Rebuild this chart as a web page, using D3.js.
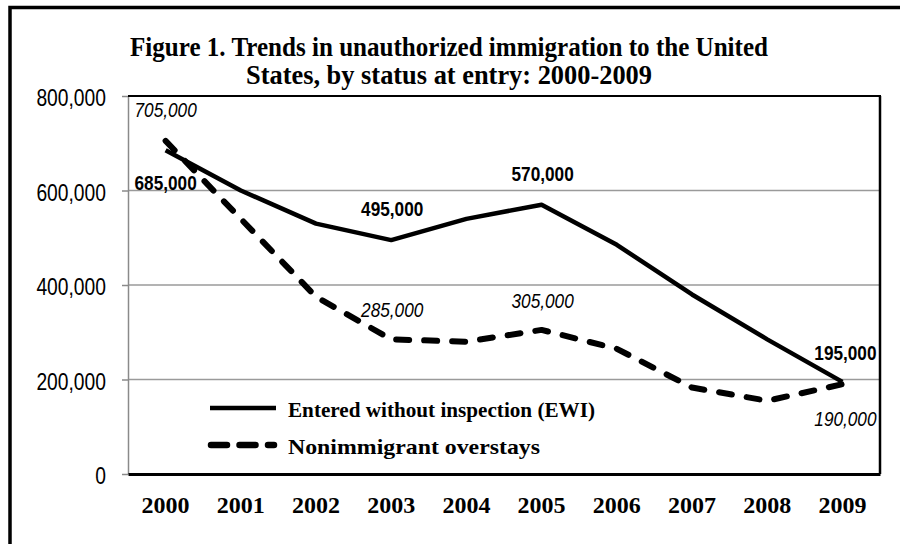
<!DOCTYPE html>
<html>
<head>
<meta charset="utf-8">
<script src="https://cdn.jsdelivr.net/npm/d3@7"></script>
<style>
  html, body { margin: 0; padding: 0; background: #fff; }
  svg { display: block; }
</style>
</head>
<body>
<svg id="chart" width="900" height="544"></svg>
<script>
// ---- data ----
const years = ["2000","2001","2002","2003","2004","2005","2006","2007","2008","2009"];
const ewiValues = [685000, 600000, 530000, 495000, 540000, 570000, 485000, 380000, 285000, 195000];
const overstayValues = [705000, 540000, 375000, 285000, 280000, 305000, 265000, 183000, 155000, 190000];
const yTicks = [0, 200000, 400000, 600000, 800000];
const titleLines = ["Figure 1. Trends in unauthorized immigration to the United", "States, by status at entry: 2000-2009"];
const seriesNames = ["Entered without inspection (EWI)", "Nonimmigrant overstays"];
// labelled points: year index
const ewiLabelIdx = [0, 3, 5, 9];
const overLabelIdx = [0, 3, 5, 9];

// ---- layout ----
const svg = d3.select("#chart");
const plot = {left: 128, right: 880, top: 96, bottom: 474};
const x = d3.scaleBand().domain(years).range([plot.left, plot.right]);
const cx = d => x(d) + x.bandwidth() / 2;
const y = d3.scaleLinear().domain([0, 800000]).range([plot.bottom, plot.top]);
const fmt = d3.format(",");
const SANS = "'Liberation Sans', Arial, sans-serif";
const SERIF = "'Liberation Serif', 'Times New Roman', serif";
const NARROW = 0.82;

function narrowText(g, px, py, txt, size, anchor, weight, style) {
  return g.append("text")
    .attr("transform", `translate(${px},${py}) scale(${NARROW},1)`)
    .attr("text-anchor", anchor)
    .attr("font-family", SANS)
    .attr("font-size", size)
    .attr("font-weight", weight)
    .attr("font-style", style)
    .attr("fill", "#000")
    .text(txt);
}

// outer frame (top and left visible)
svg.append("path").attr("d", "M10,544 L10,7.5 L900,7.5")
  .attr("fill", "none").attr("stroke", "#000").attr("stroke-width", 3.5);

// title
const titleY = [56, 84];
const titleW = [638, 406];
titleLines.forEach((t, i) => {
  svg.append("text")
    .attr("x", 449).attr("y", titleY[i])
    .attr("text-anchor", "middle")
    .attr("font-family", SERIF).attr("font-weight", "bold").attr("font-size", 27)
    .attr("textLength", titleW[i]).attr("lengthAdjust", "spacingAndGlyphs")
    .text(t);
});

// gridlines
svg.append("g").selectAll("line").data(yTicks.filter(d => d > 0 && d < 800000)).join("line")
  .attr("x1", plot.left).attr("x2", plot.right)
  .attr("y1", d => y(d)).attr("y2", d => y(d))
  .attr("stroke", "#9a9a9a").attr("stroke-width", 1.5);

// y axis
const yAxis = svg.append("g").attr("transform", `translate(${plot.left},0)`)
  .call(d3.axisLeft(y).tickValues(yTicks).tickFormat(fmt).tickSize(6).tickSizeOuter(0));
yAxis.select(".domain").attr("stroke", "#8a8a8a").attr("stroke-width", 1.5);
yAxis.selectAll(".tick line").attr("stroke", "#8a8a8a").attr("stroke-width", 1.5);
yAxis.selectAll(".tick text")
  .attr("x", null).attr("dy", null)
  .attr("transform", `translate(-22,9.5) scale(${NARROW},1)`)
  .attr("text-anchor", "end")
  .attr("font-family", SANS).attr("font-size", 23.5).attr("fill", "#000");

// plot border top/right
svg.append("line").attr("x1", plot.left).attr("x2", plot.right + 1).attr("y1", plot.top).attr("y2", plot.top)
  .attr("stroke", "#000").attr("stroke-width", 1.8);
svg.append("line").attr("x1", plot.right).attr("x2", plot.right).attr("y1", plot.top).attr("y2", plot.bottom)
  .attr("stroke", "#000").attr("stroke-width", 2.5);

// x axis
const xAxis = svg.append("g").attr("transform", `translate(0,${plot.bottom})`)
  .call(d3.axisBottom(x).tickSize(0).tickPadding(0));
xAxis.select(".domain").attr("stroke", "#000").attr("stroke-width", 3.2);
xAxis.selectAll(".tick text")
  .attr("y", 39).attr("dy", null)
  .attr("font-family", SERIF).attr("font-weight", "bold").attr("font-size", 24).attr("fill", "#000");

// lines
const line = d3.line().x((d, i) => cx(years[i])).y(d => y(d));
svg.append("path").datum(overstayValues)
  .attr("d", line).attr("fill", "none").attr("stroke", "#000")
  .attr("stroke-width", 6).attr("stroke-dasharray", "13,15").attr("stroke-linecap", "round")
  .attr("stroke-linejoin", "round");
svg.append("path").datum(ewiValues)
  .attr("d", line).attr("fill", "none").attr("stroke", "#000")
  .attr("stroke-width", 4.5).attr("stroke-linejoin", "round");

// data labels
const ewiLabelDy = [40, -24, -24, -22];
const ewiLabelDx = [0, 1, 1, 3];
const overLabelDy = [-24, -22, -22, 42];
const overLabelDx = [0, 1, 1, 3];
const lab = svg.append("g");
ewiLabelIdx.forEach((idx, k) => {
  narrowText(lab, cx(years[idx]) + ewiLabelDx[k], y(ewiValues[idx]) + ewiLabelDy[k],
    fmt(ewiValues[idx]), 21, "middle", "bold", "normal");
});
overLabelIdx.forEach((idx, k) => {
  narrowText(lab, cx(years[idx]) + overLabelDx[k], y(overstayValues[idx]) + overLabelDy[k],
    fmt(overstayValues[idx]), 21, "middle", "normal", "italic");
});

// legend
const leg = svg.append("g");
const legY = [408, 445];
const legW = [307, 252];
leg.append("line").attr("x1", 210).attr("x2", 276).attr("y1", legY[0]).attr("y2", legY[0])
  .attr("stroke", "#000").attr("stroke-width", 4.5);
leg.append("line").attr("x1", 211).attr("x2", 274).attr("y1", legY[1]).attr("y2", legY[1])
  .attr("stroke", "#000").attr("stroke-width", 6.5).attr("stroke-dasharray", "16,12.5").attr("stroke-linecap", "round");
seriesNames.forEach((s, i) => {
  leg.append("text").attr("x", 288).attr("y", legY[i] + 8.5)
    .attr("font-family", SERIF).attr("font-weight", "bold").attr("font-size", 21)
    .attr("textLength", legW[i]).attr("lengthAdjust", "spacingAndGlyphs")
    .text(s);
});
</script>
</body>
</html>
